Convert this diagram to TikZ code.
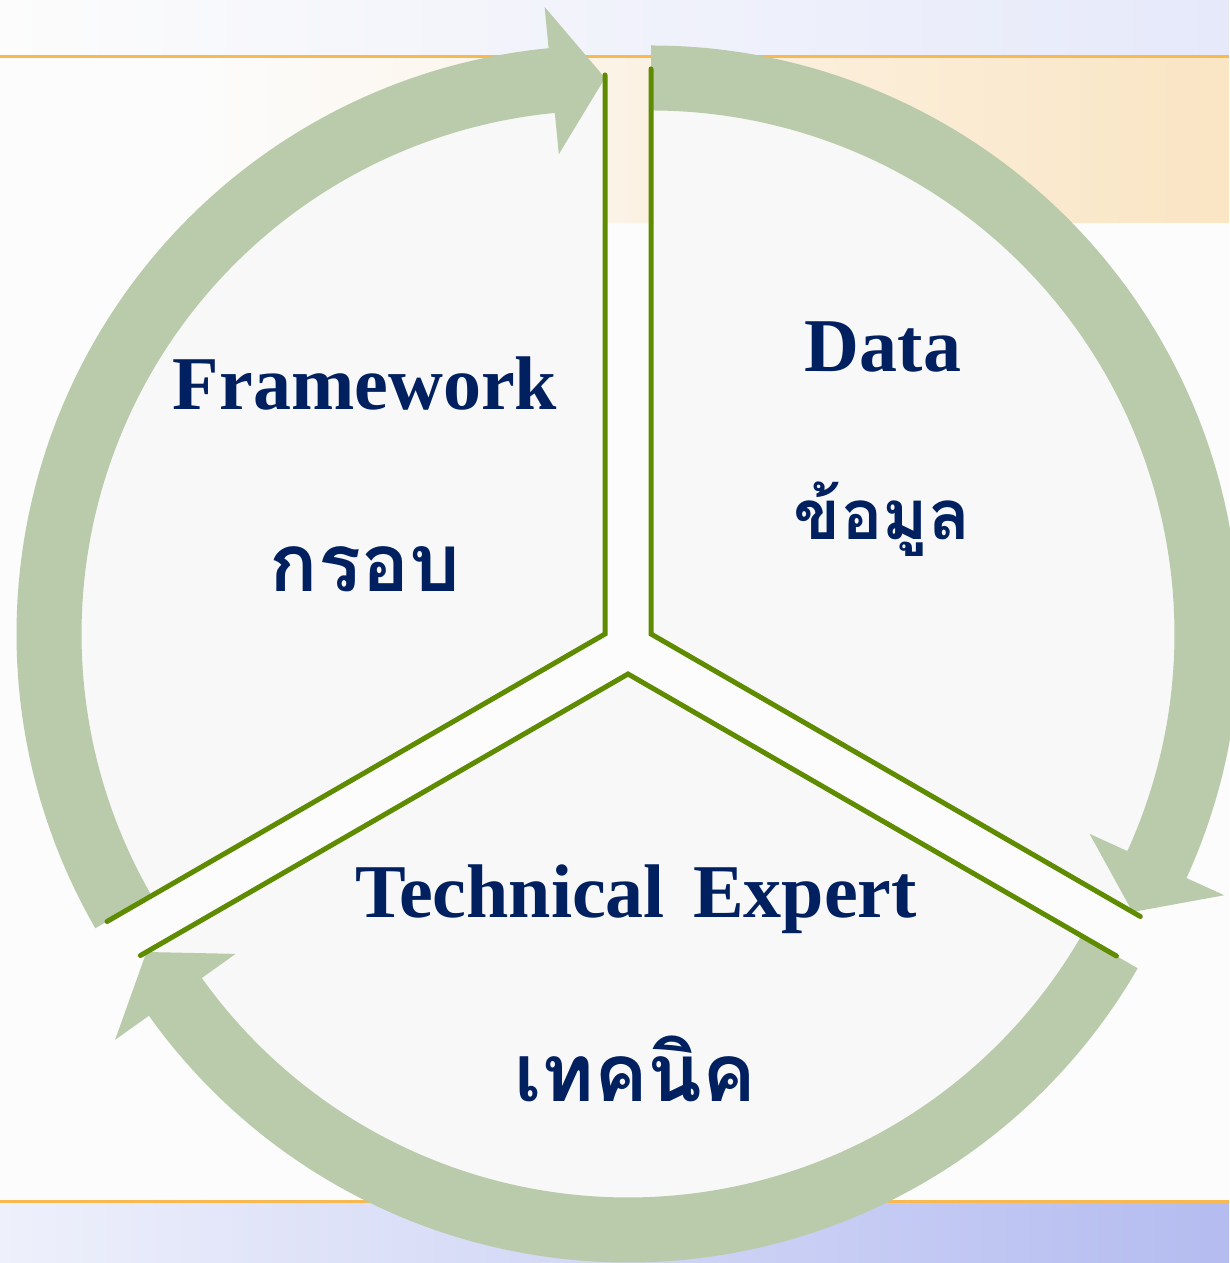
\documentclass[tikz,border=0pt]{standalone}
\usepackage{fontspec}
\setmainfont{Liberation Serif}
\newfontfamily\thaifont[Script=Thai]{Loma}
\definecolor{bandcol}{RGB}{185,203,171}
\definecolor{edgecol}{RGB}{95,139,0}
\definecolor{secfill}{RGB}{248,248,248}
\definecolor{navy}{RGB}{0,32,96}
\definecolor{orangeline}{RGB}{247,185,80}
\definecolor{bgcol}{RGB}{252,252,252}
\definecolor{lavtop}{RGB}{230,233,250}
\definecolor{lavleft}{RGB}{238,240,251}
\definecolor{lavright}{RGB}{180,188,240}
\definecolor{peach}{RGB}{250,229,196}
\begin{document}
\begin{tikzpicture}[x=1pt,y=1pt,
  sector/.style={fill=secfill},
  edgeline/.style={draw=edgecol,line width=5pt,line cap=round,line join=miter},
  bandarrow/.style={fill=bandcol},
  lbl/.style={text=navy,font=\fontsize{76}{80}\selectfont\bfseries,anchor=base,inner sep=0pt},
  thlbl/.style={text=navy,font={\thaifont\bfseries\fontsize{80}{90}\selectfont},anchor=base,inner sep=0pt},
  thsmall/.style={text=navy,font={\thaifont\bfseries\fontsize{69}{80}\selectfont},anchor=base,inner sep=0pt}]
\useasboundingbox (0,0) rectangle (1229,1263);
% background
\fill[bgcol] (0,0) rectangle (1229,1263);
\shade[shading angle=70,left color=bgcol,right color=lavtop] (0,1206) rectangle (1229,1263);
\shade[left color=bgcol,right color=peach] (200,1040) rectangle (1229,1205);
\shade[shading angle=80,left color=lavleft,right color=lavright] (0,0) rectangle (1229,61);
\fill[orangeline] (0,1204.5) rectangle (1229,1207.5);
\fill[orangeline] (0,60) rectangle (1229,63);
% sector centres
\coordinate (C1) at (605,629);
\coordinate (C2) at (651,629);
\coordinate (C3) at (628,589);
% sector fills
\begin{scope}[shift={(C1)}]
  \fill[sector] (0,0) -- (90:560) arc[start angle=90,end angle=210,radius=560] -- cycle;
\end{scope}
\begin{scope}[shift={(C2)}]
  \fill[sector] (0,0) -- (90:560) arc[start angle=90,end angle=-30,radius=560] -- cycle;
\end{scope}
\begin{scope}[shift={(C3)}]
  \fill[sector] (0,0) -- (-30:560) arc[start angle=-30,end angle=-150,radius=560] -- cycle;
\end{scope}
% arc arrows
\begin{scope}[shift={(C1)}]
  \fill[bandarrow] (210:588.5) arc[start angle=210,end angle=95.5,radius=588.5]
    -- (95.5:630) -- (90:556) -- (95.5:482) -- (95.5:523.5)
    arc[start angle=95.5,end angle=210,radius=523.5] -- cycle;
\end{scope}
\begin{scope}[shift={(C2)}]
  \fill[bandarrow] (90:588.5) arc[start angle=90,end angle=-24.5,radius=588.5]
    -- (-24.5:630) -- (-30:556) -- (-24.5:482) -- (-24.5:523.5)
    arc[start angle=-24.5,end angle=90,radius=523.5] -- cycle;
\end{scope}
\begin{scope}[shift={(C3)}]
  \fill[bandarrow] (-30:588.5) arc[start angle=-30,end angle=-144.5,radius=588.5]
    -- (-144.5:630) -- (-150:556) -- (-144.5:482) -- (-144.5:523.5)
    arc[start angle=-144.5,end angle=-30,radius=523.5] -- cycle;
\end{scope}
% sector straight edges
\begin{scope}[shift={(C1)}]
  \draw[edgeline] (90:559) -- (0,0) -- (210:575);
\end{scope}
\begin{scope}[shift={(C2)}]
  \draw[edgeline] (90:565) -- (0,0) -- (-30:565);
\end{scope}
\begin{scope}[shift={(C3)}]
  \draw[edgeline] (210:563) -- (0,0) -- (-30:564);
\end{scope}
% labels
\node[lbl] (fw) at (365,853) {Framework};
\node[thlbl] (fwth) at (365,671) {กรอบ};
\node[lbl] (data) at (883,891) {Data};
\node[thsmall] (datath) at (882,723) {ข้อมูล};
\node[lbl] (tech) at (636,345) {Technical\hspace{0.37em}Expert};
\node[thlbl] (techth) at (635,161) {เทคนิค};
\end{tikzpicture}
\end{document}
